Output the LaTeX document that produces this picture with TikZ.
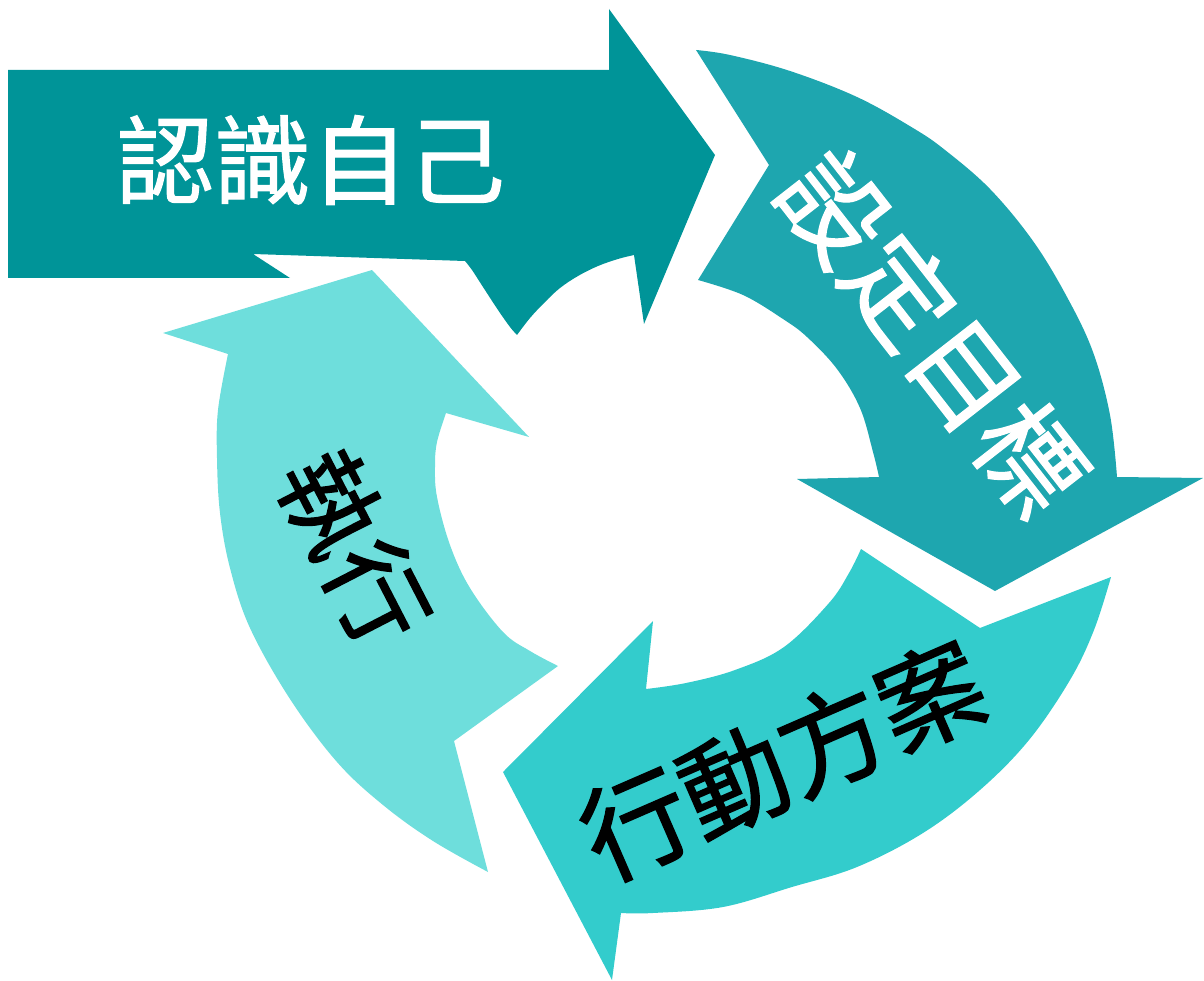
\documentclass[tikz,border=0pt]{standalone}
\usepackage{fontspec}
\newfontfamily\cjk[FakeBold=1.2]{Noto Sans CJK TC}
\definecolor{cA}{HTML}{009498}
\definecolor{cB}{HTML}{1EA6AF}
\definecolor{cC}{HTML}{33CCCC}
\definecolor{cD}{HTML}{6EDEDC}
\begin{document}
\begin{tikzpicture}[x=1pt,y=-1pt]
\tikzset{
  lbl/.style={inner sep=0pt, outer sep=0pt},
  sz/.style={font=\cjk\fontsize{#1}{#1}\selectfont}
}
\useasboundingbox (0,0) rectangle (1204,981);
% arrow 1 (top)
\fill[cA] (8,70) -- (609,70) -- (609,9) -- (715,155) -- (644,324) -- (634,255)
  -- plot[smooth, tension=0.6] coordinates {(634,255) (618,259) (598,266) (578,276) (560,288) (545,302) (530,318) (517,335)}
  -- plot[smooth, tension=0.6] coordinates {(517,335) (510,327) (498,310) (483,287) (472,270) (465,261)}
  -- (253,254) -- (290,278) -- (8,278) -- cycle;
% arrow 2 (right)
\fill[cB] (696,50)
  -- plot[smooth, tension=0.6] coordinates {(696,50) (730,55) (790,71) (857,97) (913,128) (945,150) (990,189) (1033,241) (1067,297) (1093,352) (1110,415) (1117,477)}
  -- (1203,478) -- (995,591) -- (797,479) -- (879,477)
  -- plot[smooth, tension=0.6] coordinates {(879,477) (873,452) (860,408) (837,369) (807,337) (783,319) (743,295) (698,280)}
  -- (769,165) -- cycle;
% arrow 3 (bottom right)
\fill[cC] (861,549) -- (980,628) -- (1111,577)
  -- plot[smooth, tension=0.6] coordinates {(1111,577) (1094,630) (1070,680) (1029,740) (980,790) (923,833) (857,867) (792,887) (723,907) (653,913) (621,913)}
  -- (612,980) -- (503,772) -- (653,621) -- (646,689)
  -- plot[smooth, tension=0.6] coordinates {(646,689) (686,683) (735,670) (784,647) (829,603) (849,573) (861,549)}
  -- cycle;
% arrow 4 (left)
\fill[cD] (372,270) -- (529,437) -- (446,413)
  -- plot[smooth, tension=0.6] coordinates {(446,413) (437,442) (435,466) (437,497) (450,545) (470,588) (503,632) (530,651) (558,666)}
  -- (454,741) -- (488,872)
  -- plot[smooth, tension=0.6] coordinates {(488,872) (433,841) (383,805) (337,762) (290,699) (250,628) (230,568) (220,513) (217,458) (218,410) (228,354)}
  -- (163,333) -- cycle;
% labels
\node[lbl, sz=97, text=white] (t1) at (311,160) {認識自己};
\node[lbl, sz=106, text=white, rotate=-52] (t2) at (933,333) {設定目標};
\node[lbl, sz=107, text=black, rotate=23.5] (t3) at (783,760) {行動方案};
\node[lbl, sz=101, text=black, rotate=-62.7] (t4) at (354,548) {執行};
\end{tikzpicture}
\end{document}
